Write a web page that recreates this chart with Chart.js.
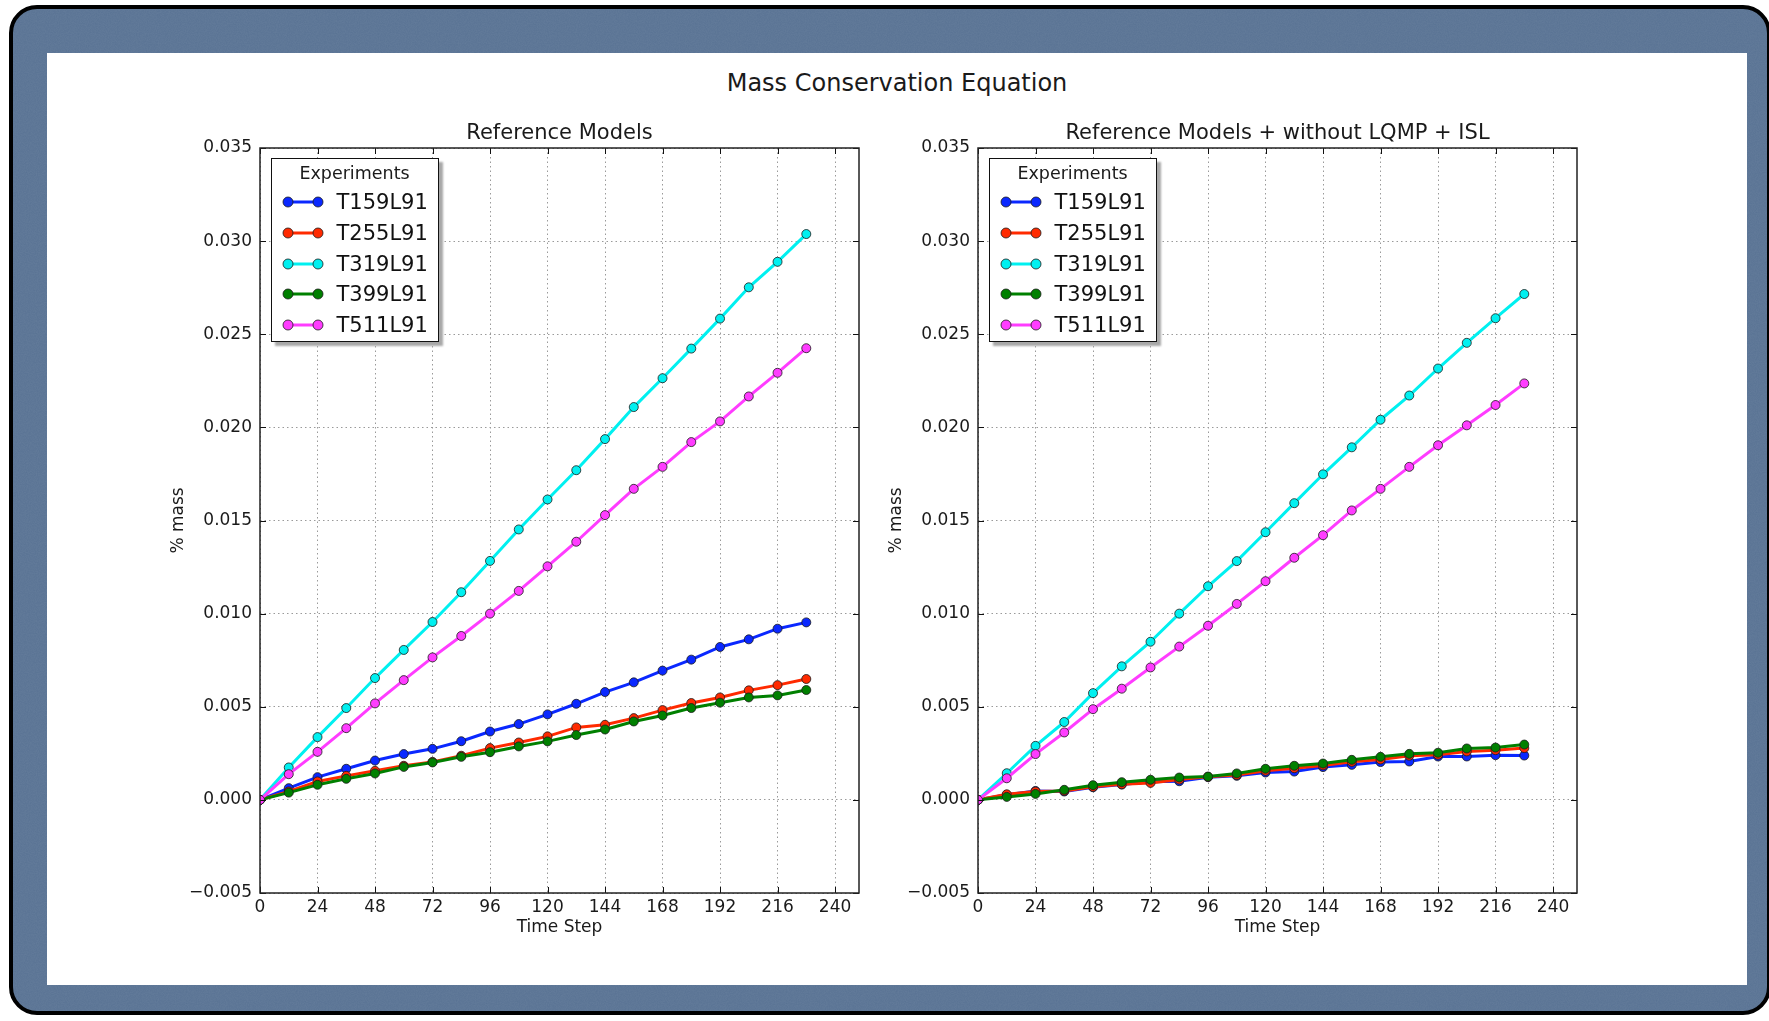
<!DOCTYPE html>
<html>
<head>
<meta charset="utf-8">
<title>Mass Conservation Equation</title>
<script src="https://cdn.jsdelivr.net/npm/chart.js@4.4.0/dist/chart.umd.min.js"></script>
<style>
body { margin: 0; width: 1769px; height: 1021px; overflow: hidden; background: #fff; font-family: 'DejaVu Sans', sans-serif; }
#frame { position: absolute; left: 9px; top: 5px; width: 1762px; height: 1010px; box-sizing: border-box; border: 4px solid #000; border-radius: 28px;
	background-color: #587293;
	background-image: url("data:image/svg+xml,%3Csvg xmlns='http://www.w3.org/2000/svg' width='300' height='300'%3E%3Cfilter id='n'%3E%3CfeTurbulence type='fractalNoise' baseFrequency='0.9' numOctaves='3'/%3E%3CfeColorMatrix values='0 0 0 0 1 0 0 0 0 1 0 0 0 0 1 0 0 0 0.07 0'/%3E%3C/filter%3E%3Crect width='300' height='300' filter='url(%23n)'/%3E%3C/svg%3E"); }
#panel { position: absolute; left: 47px; top: 53px; width: 1700px; height: 932px; background: #fff; }
#suptitle { position: absolute; left: 47px; width: 1700px; top: 71px; line-height: 24px; font-size: 24px; text-align: center; color: #1a1a1a; }
.plot { position: absolute; top: 102px; width: 740px; height: 850px; }
.plot canvas { position: absolute; left: 0; top: 0; }
.legend { position: absolute; width: 168px; height: 184px; box-sizing: border-box; background: #fff; border: 1.5px solid #111; box-shadow: 4px 4px 2px #a8a8a8; }
.legend .ltitle { position: absolute; left: 0; width: 100%; top: 3px; line-height: 22px; font-size: 17.5px; text-align: center; color: #1a1a1a; }
.legend .row { position: absolute; left: 0; width: 100%; height: 24px; }
.legend .row svg { position: absolute; left: 8px; top: 4px; }
.legend .row span { position: absolute; left: 65px; top: 0; line-height: 24px; font-size: 21px; color: #111; }
</style>
</head>
<body>
<div id="frame"></div>
<div id="panel"></div>
<div id="suptitle">Mass Conservation Equation</div>
<div class="plot" style="left:140px"><canvas id="chartRef" width="740" height="850"></canvas><div class="legend" id="legRef"></div></div>
<div class="plot" style="left:858px"><canvas id="chartIsl" width="740" height="850"></canvas><div class="legend" id="legIsl"></div></div>

<script>
var timeSteps = [0, 12, 24, 36, 48, 60, 72, 84, 96, 108, 120, 132, 144, 156, 168, 180, 192, 204, 216, 228];
var experiments = ['T159L91', 'T255L91', 'T319L91', 'T399L91', 'T511L91'];
var colors = ['#0a28ff', '#ff2a00', '#00f0f0', '#008000', '#ff3cff'];

// Reference Models
var refT159 = [0, 0.00063, 0.00122, 0.00167, 0.00211, 0.00246, 0.00274, 0.00315, 0.00367, 0.00407, 0.00459, 0.00516, 0.00579, 0.00631, 0.00694, 0.00753, 0.00821, 0.00862, 0.00919, 0.00953];
var refT255 = [0, 0.00045, 0.00099, 0.00129, 0.00156, 0.00183, 0.00204, 0.00237, 0.00278, 0.00308, 0.00341, 0.00389, 0.00403, 0.00439, 0.00482, 0.00520, 0.00550, 0.00588, 0.00616, 0.00649];
var refT319 = [0, 0.00174, 0.00337, 0.00493, 0.00654, 0.00805, 0.00955, 0.01115, 0.01283, 0.01452, 0.01613, 0.01770, 0.01937, 0.02109, 0.02264, 0.02423, 0.02584, 0.02752, 0.02889, 0.03038];
var refT399 = [0, 0.00039, 0.00081, 0.00113, 0.00142, 0.00177, 0.00201, 0.00231, 0.00256, 0.00287, 0.00314, 0.00348, 0.00378, 0.00421, 0.00453, 0.00493, 0.00522, 0.00550, 0.00561, 0.00590];
var refT511 = [0, 0.00138, 0.00258, 0.00385, 0.00518, 0.00643, 0.00765, 0.00880, 0.01000, 0.01122, 0.01254, 0.01386, 0.01529, 0.01670, 0.01788, 0.01921, 0.02032, 0.02166, 0.02293, 0.02425];

// Reference Models + without LQMP + ISL
var islT159 = [0, 0.00027, 0.00048, 0.00045, 0.00068, 0.00082, 0.00097, 0.00100, 0.00122, 0.00129, 0.00147, 0.00152, 0.00176, 0.00188, 0.00203, 0.00206, 0.00233, 0.00233, 0.00240, 0.00238];
var islT255 = [0, 0.00030, 0.00045, 0.00048, 0.00070, 0.00084, 0.00091, 0.00109, 0.00124, 0.00133, 0.00156, 0.00170, 0.00185, 0.00204, 0.00217, 0.00237, 0.00242, 0.00260, 0.00267, 0.00278];
var islT319 = [0, 0.00143, 0.00290, 0.00418, 0.00573, 0.00717, 0.00849, 0.01000, 0.01147, 0.01282, 0.01437, 0.01593, 0.01748, 0.01893, 0.02041, 0.02171, 0.02316, 0.02454, 0.02586, 0.02716];
var islT399 = [0, 0.00016, 0.00032, 0.00054, 0.00079, 0.00095, 0.00108, 0.00120, 0.00125, 0.00142, 0.00167, 0.00183, 0.00195, 0.00215, 0.00231, 0.00247, 0.00253, 0.00276, 0.00281, 0.00297];
var islT511 = [0, 0.00116, 0.00246, 0.00362, 0.00487, 0.00597, 0.00711, 0.00823, 0.00935, 0.01052, 0.01174, 0.01300, 0.01421, 0.01554, 0.01670, 0.01788, 0.01904, 0.02011, 0.02120, 0.02236];

// axes
var xMax = 250, xStep = 24;
var yMin = -0.005, yMax = 0.035, yStep = 0.005;

var txtColor = '#1a1a1a';
Chart.defaults.font.family = "'DejaVu Sans', sans-serif";

function fmtY(v) {
	var s = (Math.abs(v) < 1e-9 ? 0 : v).toFixed(3);
	return s.replace('-', '\u2212');
}

// matplotlib style frame: full box + inward ticks on all four sides
var axesBox = {
	id: 'axesBox',
	afterDatasetsDraw: function(chart) {
		var ctx = chart.ctx, a = chart.chartArea;
		var xs = chart.scales.x, ys = chart.scales.y;
		ctx.save();
		ctx.strokeStyle = '#111';
		ctx.lineWidth = 1;
		ctx.beginPath();
		xs.ticks.forEach(function(t) {
			var px = Math.round(xs.getPixelForValue(t.value)) + 0.5;
			ctx.moveTo(px, a.bottom); ctx.lineTo(px, a.bottom - 6);
			ctx.moveTo(px, a.top); ctx.lineTo(px, a.top + 6);
		});
		ys.ticks.forEach(function(t) {
			var py = Math.round(ys.getPixelForValue(t.value)) + 0.5;
			ctx.moveTo(a.left, py); ctx.lineTo(a.left + 6, py);
			ctx.moveTo(a.right, py); ctx.lineTo(a.right - 6, py);
		});
		ctx.stroke();
		ctx.lineWidth = 1.5;
		ctx.strokeStyle = '#222';
		ctx.strokeRect(a.left, a.top, a.right - a.left, a.bottom - a.top);
		ctx.restore();
	}
};

function makeSample(color) {
	return '<svg width="50" height="16"><line x1="8" y1="8" x2="38" y2="8" stroke="' + color + '" stroke-width="3"/>' +
		'<circle cx="8" cy="8" r="5" fill="' + color + '" stroke="#1a1a1a" stroke-width="0.8"/>' +
		'<circle cx="38" cy="8" r="5" fill="' + color + '" stroke="#1a1a1a" stroke-width="0.8"/></svg>';
}

function buildLegend(chart, legendId) {
	var box = document.getElementById(legendId);
	var a = chart.chartArea;
	box.style.left = (a.left + 10.5) + 'px';
	box.style.top = (a.top + 9.5) + 'px';
	var html = '<div class="ltitle">Experiments</div>';
	chart.data.datasets.forEach(function(ds, i) {
		html += '<div class="row" style="top:' + (31.5 + i * 30.75) + 'px">' + makeSample(ds.borderColor) + '<span>' + ds.label + '</span></div>';
	});
	box.innerHTML = html;
}

function buildPlot(canvasId, legendId, title, series) {
	var datasets = [];
	for (var i = 0; i < series.length; i++) {
		var vals = series[i];
		datasets.push({
			label: experiments[i],
			data: timeSteps.map(function(t, k) { return {x: t, y: vals[k]}; }),
			borderColor: colors[i],
			backgroundColor: colors[i],
			pointBackgroundColor: colors[i],
			pointBorderColor: '#1a1a1a',
			pointBorderWidth: 0.8,
			pointRadius: 4.5,
			borderWidth: 3,
			tension: 0,
			order: series.length - i
		});
	}
	var chart = new Chart(document.getElementById(canvasId), {
		type: 'line',
		data: { datasets: datasets },
		options: {
			responsive: false,
			animation: false,
			layout: { padding: { left: 0, right: 21, top: 0, bottom: 0 } },
			plugins: {
				legend: { display: false },
				tooltip: { enabled: false },
				title: {
					display: true,
					text: title,
					fullSize: false,
					color: txtColor,
					font: { size: 21, weight: 'normal' },
					padding: { top: 19.4, bottom: 1.4 }
				}
			},
			scales: {
				x: {
					type: 'linear',
					min: 0,
					max: xMax,
					bounds: 'data',
					ticks: { stepSize: xStep, autoSkip: false, maxRotation: 0, padding: 4, color: txtColor, font: { size: 17 } },
					grid: { color: '#9a9a9a', lineWidth: 1, drawTicks: false },
					border: { display: false, dash: [1.5, 3] },
					title: { display: true, text: 'Time Step', color: txtColor, font: { size: 17 }, padding: { top: 0, bottom: 14 } },
					afterBuildTicks: function(scale) {
						scale.ticks = scale.ticks.filter(function(t) { return t.value % xStep === 0; });
					},
					afterFit: function(scale) { scale.height = 59; }
				},
				y: {
					type: 'linear',
					min: yMin,
					max: yMax,
					ticks: { stepSize: yStep, padding: 8, color: txtColor, font: { size: 17 }, callback: fmtY },
					grid: { color: '#9a9a9a', lineWidth: 1, drawTicks: false },
					border: { display: false, dash: [1.5, 3] },
					title: { display: true, text: '% mass', color: txtColor, font: { size: 17 }, padding: { top: 28, bottom: 0 } },
					afterFit: function(scale) { scale.width = 120; }
				}
			}
		},
		plugins: [axesBox]
	});
	buildLegend(chart, legendId);
	return chart;
}

buildPlot('chartRef', 'legRef', 'Reference Models', [refT159, refT255, refT319, refT399, refT511]);
buildPlot('chartIsl', 'legIsl', 'Reference Models + without LQMP + ISL', [islT159, islT255, islT319, islT399, islT511]);
</script>
</body>
</html>
